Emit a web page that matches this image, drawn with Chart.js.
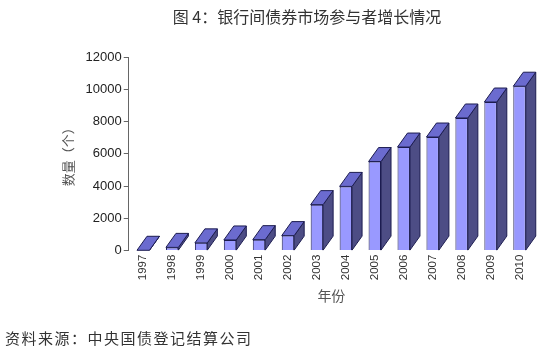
<!DOCTYPE html>
<html>
<head>
<meta charset="utf-8">
<script src="https://cdn.jsdelivr.net/npm/chart.js@4"></script>
<style>
    html, body { margin: 0; padding: 0; background: #fff; }
    #wrap { position: relative; width: 550px; height: 351px; }
    #title {
        position: absolute; left: 0; top: 4px; width: 614px; text-align: center;
        font: 16px "Noto Sans CJK SC", sans-serif; color: #333;
    }
    #source {
        position: absolute; left: 5px; top: 327px; letter-spacing: 1.5px;
        font: 15px "Noto Sans CJK SC", sans-serif; color: #333;
    }
</style>
</head>
<body>
<div id="wrap">
    <canvas id="myChart" width="550" height="351"></canvas>
    <div id="title">图 4：银行间债券市场参与者增长情况</div>
    <div id="source">资料来源：中央国债登记结算公司</div>
</div>
<script>
const years = ['1997', '1998', '1999', '2000', '2001', '2002', '2003',
               '2004', '2005', '2006', '2007', '2008', '2009', '2010'];
const participants = [20, 200, 480, 660, 680, 930, 2850,
                      3980, 5520, 6420, 7040, 8220, 9210, 10190];
const yTicks = [0, 2000, 4000, 6000, 8000, 10000, 12000];

const FRONT = '#9999ff';
const TOP = '#6b6bcf';
const SIDE = '#4d4d85';
const EDGE = '#1c1c50';
const DX = 10, DY = 14;

// draws the top and side faces next to each bar chart.js already drew
const bars3d = {
    id: 'bars3d',
    afterDatasetsDraw(chart) {
        const ctx = chart.ctx;
        chart.getDatasetMeta(0).data.forEach(bar => {
            const { x, y, base, width } = bar.getProps(['x', 'y', 'base', 'width'], true);
            const l = x - width / 2, r = x + width / 2;
            ctx.save();
            ctx.lineWidth = 1;
            ctx.strokeStyle = EDGE;
            ctx.lineJoin = 'round';

            ctx.beginPath();
            ctx.moveTo(r, y);
            ctx.lineTo(r + DX, y - DY);
            ctx.lineTo(r + DX, base - DY);
            ctx.lineTo(r, base);
            ctx.closePath();
            ctx.fillStyle = SIDE;
            ctx.fill();
            ctx.stroke();

            ctx.beginPath();
            ctx.moveTo(l, y);
            ctx.lineTo(l + DX, y - DY);
            ctx.lineTo(r + DX, y - DY);
            ctx.lineTo(r, y);
            ctx.closePath();
            ctx.fillStyle = TOP;
            ctx.fill();
            ctx.stroke();
            ctx.restore();
        });
    }
};

const ctx = document.getElementById('myChart').getContext('2d');
new Chart(ctx, {
    type: 'bar',
    data: {
        labels: years,
        datasets: [{
            label: '数量',
            data: participants,
            backgroundColor: FRONT,
            borderColor: EDGE,
            borderWidth: 1,
            categoryPercentage: 1,
            barPercentage: 0.43
        }]
    },
    options: {
        responsive: false,
        animation: false,
        layout: { padding: { top: 57, left: 60, right: 16, bottom: 47 } },
        plugins: {
            legend: { display: false },
            tooltip: { enabled: false }
        },
        scales: {
            x: {
                grid: { display: false, drawTicks: false },
                border: { display: false },
                ticks: {
                    color: '#333',
                    font: { family: 'Liberation Sans', size: 11.5 },
                    minRotation: 90, maxRotation: 90,
                    padding: 4
                },
                title: {
                    display: true, text: '年份', color: '#555',
                    font: { family: 'Noto Sans CJK SC', size: 14 },
                    padding: { top: 3, bottom: 0 }
                }
            },
            y: {
                min: 0, max: 12000,
                afterBuildTicks: axis => { axis.ticks = yTicks.map(v => ({ value: v })); },
                grid: { drawOnChartArea: false, tickLength: 5, color: '#666' },
                border: { display: true, color: '#666' },
                ticks: {
                    color: '#222',
                    font: { family: 'Liberation Sans', size: 13 },
                    padding: 2,
                    callback: v => String(v)
                },
                title: {
                    display: true, text: '数量（个）', color: '#555',
                    font: { family: 'Noto Sans CJK SC', size: 13 },
                    padding: { top: 0, bottom: 8 }
                }
            }
        }
    },
    plugins: [bars3d]
});
</script>
</body>
</html>
